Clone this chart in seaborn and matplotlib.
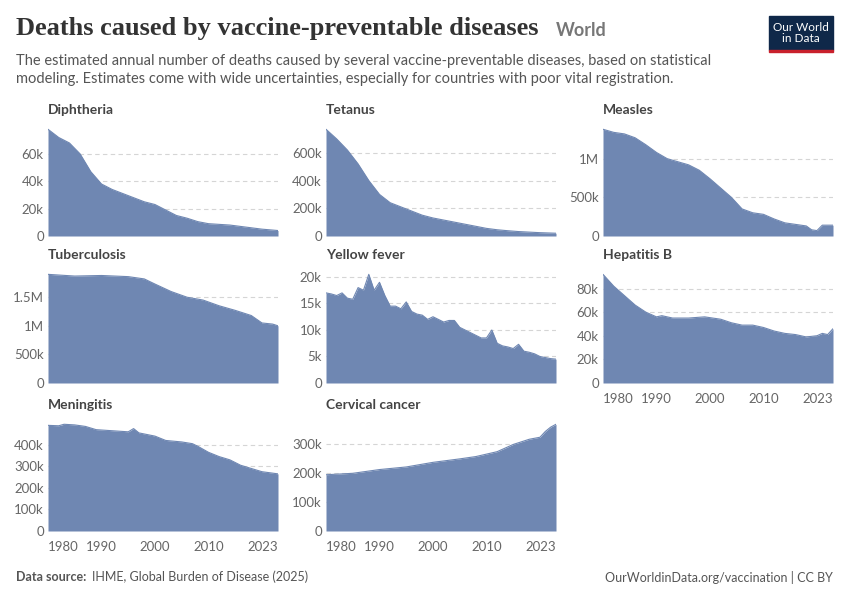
import numpy as np
import pandas as pd
import seaborn as sns
import matplotlib.pyplot as plt
from matplotlib.ticker import FuncFormatter
from matplotlib.patches import Rectangle

sns.set_style('white')
plt.rcParams['font.family'] = ['Lato', 'DejaVu Sans']

# data
diph_years = [1980, 1982, 1984, 1986, 1988, 1990, 1992, 1994, 1996, 1998, 2000, 2002, 2004, 2006, 2008, 2010, 2012, 2014, 2016, 2018, 2020, 2023]
diph_vals = [78e3, 72e3, 68e3, 60e3, 47e3, 38e3, 34e3, 31e3, 28e3, 25e3, 23e3, 19e3, 15e3, 13e3, 10.5e3, 9e3, 8.5e3, 8e3, 7e3, 6e3, 5e3, 4e3]

tet_years = diph_years
tet_vals = [770e3, 700e3, 620e3, 520e3, 400e3, 300e3, 240e3, 210e3, 180e3, 150e3, 130e3, 115e3, 100e3, 85e3, 70e3, 55e3, 45e3, 38e3, 32e3, 28e3, 24e3, 20e3]

mea_years = [1980, 1982, 1984, 1986, 1988, 1990, 1992, 1994, 1996, 1998, 2000, 2002, 2004, 2006, 2008, 2010, 2012, 2014, 2016, 2018, 2019, 2020, 2021, 2023]
mea_vals = [1.38e6, 1.34e6, 1.32e6, 1.27e6, 1.18e6, 1.08e6, 1.0e6, 0.96e6, 0.92e6, 0.85e6, 0.74e6, 0.62e6, 0.5e6, 0.35e6, 0.3e6, 0.28e6, 0.22e6, 0.17e6, 0.15e6, 0.13e6, 0.08e6, 0.07e6, 0.14e6, 0.14e6]

tb_years = [1980, 1985, 1990, 1995, 1998, 2000, 2003, 2006, 2009, 2012, 2015, 2018, 2020, 2022, 2023]
tb_vals = [1.9e6, 1.87e6, 1.88e6, 1.86e6, 1.82e6, 1.73e6, 1.6e6, 1.5e6, 1.45e6, 1.35e6, 1.27e6, 1.18e6, 1.05e6, 1.03e6, 1.0e6]

yf_years = list(range(1980, 2024))
yf_vals = [17e3, 16.8e3, 16.5e3, 17e3, 16e3, 15.8e3, 18e3, 17.5e3, 20.5e3, 17.5e3, 19e3, 16.5e3, 14.5e3, 14.5e3, 14e3,
           15.3e3, 13.5e3, 13e3, 12.8e3, 12e3, 12.5e3, 12e3, 11.5e3, 11.8e3, 11.8e3, 10.5e3, 10e3, 9.5e3, 9e3, 8.5e3,
           8.5e3, 10e3, 7.5e3, 7e3, 6.8e3, 6.5e3, 7.3e3, 6e3, 5.8e3, 5.5e3, 5e3, 4.8e3, 4.6e3, 4.5e3]

hep_years = [1980, 1982, 1984, 1986, 1988, 1990, 1991, 1993, 1996, 1999, 2002, 2004, 2006, 2008, 2010, 2012, 2014, 2016, 2018, 2020, 2021, 2022, 2023]
hep_vals = [92e3, 82e3, 74e3, 66e3, 60e3, 56e3, 57e3, 55e3, 55e3, 56e3, 54e3, 51e3, 49e3, 49e3, 47e3, 44e3, 42e3, 41e3, 39e3, 40e3, 42e3, 41e3, 46e3]

men_years = [1980, 1982, 1983, 1985, 1987, 1989, 1992, 1995, 1996, 1997, 2000, 2002, 2005, 2007, 2008, 2010, 2012, 2014, 2016, 2018, 2020, 2023]
men_vals = [490e3, 488e3, 495e3, 492e3, 485e3, 470e3, 465e3, 460e3, 475e3, 455e3, 440e3, 420e3, 413e3, 405e3, 393e3, 365e3, 345e3, 330e3, 305e3, 290e3, 275e3, 265e3]

cerv_years = [1980, 1985, 1990, 1995, 2000, 2005, 2008, 2012, 2015, 2018, 2020, 2021, 2022, 2023]
cerv_vals = [195e3, 200e3, 213e3, 222e3, 238e3, 250e3, 258e3, 275e3, 300e3, 318e3, 325e3, 345e3, 360e3, 370e3]

# panel: (title, years, values, yticks, column, row, show x ticks)
panels = [
    ('Diphtheria', diph_years, diph_vals, [0, 20e3, 40e3, 60e3], 0, 0, False),
    ('Tetanus', tet_years, tet_vals, [0, 200e3, 400e3, 600e3], 1, 0, False),
    ('Measles', mea_years, mea_vals, [0, 500e3, 1e6], 2, 0, False),
    ('Tuberculosis', tb_years, tb_vals, [0, 500e3, 1e6, 1.5e6], 0, 1, False),
    ('Yellow fever', yf_years, yf_vals, [0, 5e3, 10e3, 15e3, 20e3], 1, 1, False),
    ('Hepatitis B', hep_years, hep_vals, [0, 20e3, 40e3, 60e3, 80e3], 2, 1, True),
    ('Meningitis', men_years, men_vals, [0, 100e3, 200e3, 300e3, 400e3], 0, 2, True),
    ('Cervical cancer', cerv_years, cerv_vals, [0, 100e3, 200e3, 300e3], 1, 2, True),
]


def fmt(v, pos):
    if v >= 1e6:
        return ('%.1fM' % (v / 1e6)).replace('.0M', 'M')
    if v >= 1e3:
        return '%dk' % (v / 1e3)
    return '%d' % v


fig = plt.figure(figsize = (8.5, 6), dpi = 100)
col_x = [48, 326, 603]
row_y = [(125, 236), (270, 383), (420, 531)]
fill_color = '#6f87b2'

for title, years, vals, yticks, col, row, xticks in panels:
    top, bottom = row_y[row]
    ax = fig.add_axes([col_x[col] / 850, 1 - bottom / 600, 230 / 850, (bottom - top) / 600])
    df = pd.DataFrame({'year': years, 'deaths': vals})
    ax.fill_between(df['year'], df['deaths'], color = fill_color, linewidth = 0)
    sns.lineplot(data = df, x = 'year', y = 'deaths', ax = ax, color = fill_color, linewidth = 0.8)
    ax.set_xlim(1980, 2023)
    ax.set_ylim(0, max(vals) * 1.04)
    ax.set_yticks(yticks)
    ax.yaxis.set_major_formatter(FuncFormatter(fmt))
    ax.grid(axis = 'y', linestyle = (0, (4, 3)), color = '#d5d5d5', linewidth = 0.8)
    ax.set_axisbelow(True)
    for s in ax.spines.values():
        s.set_visible(False)
    ax.tick_params(axis = 'y', length = 0, labelsize = 9.5, colors = '#666666', pad = 3)
    if xticks:
        ax.set_xticks([1980, 1990, 2000, 2010, 2023])
        ax.tick_params(axis = 'x', length = 4, labelsize = 9.5, colors = '#666666', color = '#999999')
        labels = ax.get_xticklabels()
        labels[0].set_ha('left')  # first and last labels kept inside the panel
        labels[-1].set_ha('right')
    else:
        ax.set_xticks([])
    ax.set_xlabel('')
    ax.set_ylabel('')
    fig.text(col_x[col] / 850, 1 - (top - 15) / 600, title, fontsize = 10, fontweight = 'bold',
             color = '#444444', va = 'center')

# titles and notes
fig.text(16 / 850, 1 - 28 / 600, 'Deaths caused by vaccine-preventable diseases', fontsize = 19,
         fontweight = 'bold', family = ['Liberation Serif', 'DejaVu Serif'], color = '#333333', va = 'center')
fig.text(556 / 850, 1 - 30 / 600, 'World', fontsize = 13, fontweight = 'bold', color = '#777777', va = 'center')
fig.text(16 / 850, 1 - 70 / 600,
         'The estimated annual number of deaths caused by several vaccine-preventable diseases, based on statistical\n'
         'modeling. Estimates come with wide uncertainties, especially for countries with poor vital registration.',
         fontsize = 10.5, color = '#555555', va = 'center', linespacing = 1.3)
fig.text(16 / 850, 1 - 577 / 600, 'Data source:', fontsize = 9, fontweight = 'bold', color = '#555555', va = 'center')
fig.text(92 / 850, 1 - 577 / 600, 'IHME, Global Burden of Disease (2025)', fontsize = 9, color = '#555555', va = 'center')
fig.text(833 / 850, 1 - 577 / 600, 'OurWorldinData.org/vaccination | CC BY', fontsize = 9, color = '#555555',
         va = 'center', ha = 'right')

# logo
fig.patches.append(Rectangle((769 / 850, 1 - 50 / 600), 64 / 850, 34 / 600, transform = fig.transFigure,
                             color = '#0f2849'))
fig.patches.append(Rectangle((769 / 850, 1 - 52 / 600), 64 / 850, 2.5 / 600, transform = fig.transFigure,
                             color = '#c9202c'))
fig.text(801 / 850, 1 - 33 / 600, 'Our World\nin Data', fontsize = 8.5, color = 'white', ha = 'center',
         va = 'center', linespacing = 1.1)

fig.savefig('out.png', dpi = 100)
